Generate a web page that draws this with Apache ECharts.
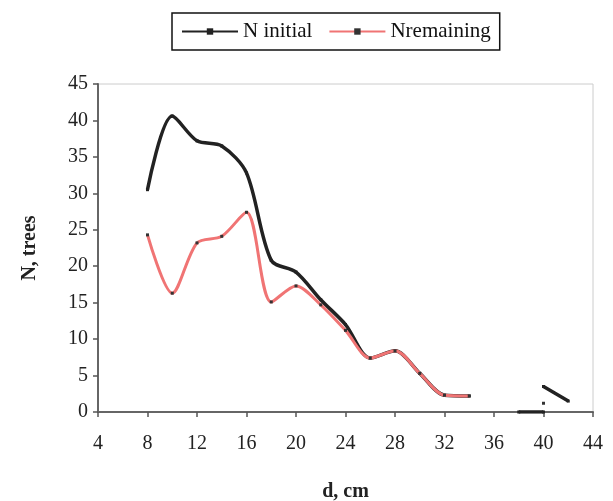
<!DOCTYPE html>
<html>
<head>
<meta charset="utf-8">
<script src="https://cdn.jsdelivr.net/npm/echarts@6/dist/echarts.min.js"></script>
<style>
  html, body { margin: 0; padding: 0; background: #fff; }
  #chart { width: 613px; height: 501px; }
</style>
</head>
<body>
<div id="chart"></div>
<script>
// diameter classes, cm
var diameters = [8, 10, 12, 14, 16, 18, 20, 22, 24, 26, 28, 30, 32, 34];
var nInitial = [30.5, 40.6, 37.2, 36.5, 32.8, 20.8, 19.2, 15.4, 12.0, 7.4, 8.4, 5.3, 2.3, 2.2];
var nRemaining = [24.3, 16.3, 23.2, 24.1, 27.4, 15.1, 17.3, 14.7, 11.2, 7.4, 8.4, 5.3, 2.3, 2.2];
// tail of the distribution (large trees)
var tailX = [38, 40, 40, 42];
var tailInitial = [0, 0, 3.5, 1.5];
var tailRemainingX = [40];
var tailRemaining = [1.2];

function pairs(xs, ys) {
  return xs.map(function (x, i) { return [x, ys[i]]; });
}

var initialData = pairs(diameters, nInitial)
  .concat(['-'])
  .concat(pairs(tailX.slice(0, 2), tailInitial.slice(0, 2)))
  .concat(['-'])
  .concat(pairs(tailX.slice(2), tailInitial.slice(2)));
var remainingData = pairs(diameters, nRemaining)
  .concat(['-'])
  .concat(pairs(tailRemainingX, tailRemaining));

var myChart = echarts.init(document.getElementById('chart'));
var serif = '"Liberation Serif", "DejaVu Serif", serif';

myChart.setOption({
  animation: false,
  textStyle: { fontFamily: serif },
  legend: {
    top: 13,
    left: 172,
    padding: [8, 9],
    borderColor: '#111',
    borderWidth: 1.5,
    itemWidth: 56,
    itemHeight: 8,
    itemGap: 16,
    textStyle: { fontFamily: serif, fontSize: 21, color: '#111' },
    data: ['N initial', 'Nremaining']
  },
  grid: {
    left: 98, right: 20, top: 84, bottom: 89,
    containLabel: false,
    outerBoundsMode: 'none',
    show: true, borderColor: '#ccc', borderWidth: 1
  },
  xAxis: {
    type: 'value',
    min: 4, max: 44, interval: 4,
    name: 'd, cm',
    nameLocation: 'middle',
    nameGap: 70,
    nameTextStyle: { fontFamily: serif, fontSize: 20, fontWeight: 'bold', color: '#222' },
    axisLine: { lineStyle: { color: '#666', width: 2 } },
    axisTick: { show: true, length: 5, inside: false, lineStyle: { color: '#555', width: 1.5 } },
    axisLabel: { fontFamily: serif, fontSize: 20, color: '#222', margin: 22 },
    splitLine: { show: false }
  },
  yAxis: {
    type: 'value',
    min: 0, max: 45, interval: 5,
    name: 'N, trees',
    nameLocation: 'middle',
    nameGap: 58,
    nameTextStyle: { fontFamily: serif, fontSize: 20, fontWeight: 'bold', color: '#222' },
    axisLine: { show: true, lineStyle: { color: '#666', width: 2 } },
    axisTick: { show: true, length: 5, lineStyle: { color: '#555', width: 1.5 } },
    axisLabel: { fontFamily: serif, fontSize: 20, color: '#222', margin: 10 },
    splitLine: { show: false }
  },
  series: [
    {
      name: 'N initial',
      type: 'line',
      smooth: 0.3,
      connectNulls: false,
      data: initialData,
      symbol: 'rect',
      symbolSize: 3,
      itemStyle: { color: '#222' },
      lineStyle: { color: '#222', width: 3.5 },
      z: 2
    },
    {
      name: 'Nremaining',
      type: 'line',
      smooth: 0.3,
      connectNulls: false,
      data: remainingData,
      symbol: 'rect',
      symbolSize: 3,
      itemStyle: { color: '#333' },
      lineStyle: { color: '#f07474', width: 3 },
      z: 3
    }
  ]
});
</script>
</body>
</html>
